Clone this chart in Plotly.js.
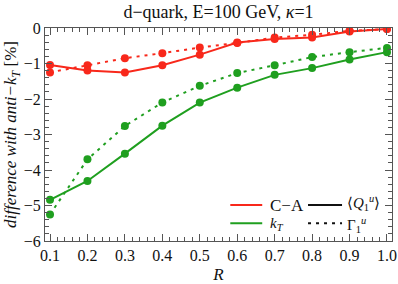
<!DOCTYPE html>
<html>
<head>
<meta charset="utf-8">
<script src="https://cdn.plot.ly/plotly-3.0.1.min.js"></script>
<style>html,body{margin:0;padding:0;background:#fff;}#chart{width:398px;height:284px;}</style>
</head>
<body>
<div id="chart"></div>
<script>
// Data
const R = [0.1, 0.2, 0.3, 0.4, 0.5, 0.6, 0.7, 0.8, 0.9, 1.0];
const caQ     = [-1.04, -1.20, -1.25, -1.05, -0.75, -0.41, -0.31, -0.27, -0.10, -0.03];
const caGamma = [-1.25, -1.05, -0.85, -0.71, -0.55, -0.42, -0.27, -0.19, -0.08, -0.03];
const ktQ     = [-4.84, -4.31, -3.54, -2.75, -2.10, -1.68, -1.32, -1.13, -0.89, -0.68];
const ktGamma = [-5.25, -3.70, -2.76, -2.10, -1.63, -1.27, -1.05, -0.82, -0.68, -0.56];
const xTicks = [0.1, 0.2, 0.3, 0.4, 0.5, 0.6, 0.7, 0.8, 0.9, 1.0];
const yTicks = [0, -1, -2, -3, -4, -5, -6];

const RED = '#f8281b';
const GREEN = '#1f9f1f';
const FONT = '"Liberation Serif", "Times New Roman", Times, serif';

function tr(y, color, dash) {
  return {
    x: R, y: y, type: 'scatter', mode: 'lines+markers',
    line: {color: color, width: 2, dash: dash},
    marker: {color: color, size: 8},
    showlegend: false, hoverinfo: 'skip'
  };
}

const data = [
  tr(caGamma, RED, '3px,5px'),
  tr(ktGamma, GREEN, '3px,5px'),
  tr(caQ, RED, 'solid'),
  tr(ktQ, GREEN, 'solid')
];

const axisCommon = {
  showgrid: false, zeroline: false, showline: true, mirror: 'allticks',
  linecolor: '#555', linewidth: 1, ticks: 'inside', ticklen: 7, tickcolor: '#555', tickwidth: 1,
  tickfont: {family: FONT, size: 16, color: '#111'}
};

const LF = 15;
const layout = {
  width: 398, height: 284,
  margin: {l: 45, r: 6.3, t: 28.3, b: 43, pad: 0},
  paper_bgcolor: '#fff', plot_bgcolor: '#fff',
  font: {family: FONT, color: '#111'},
  title: {text: 'd\u2212quark, E=100 GeV, <i>\u03ba</i>=1', font: {family: FONT, size: 18, color: '#111'},
          x: 0.5, xref: 'paper', y: 0.96, yref: 'container', yanchor: 'middle'},
  xaxis: Object.assign({}, axisCommon, {
    range: [0.0866, 1.0134], tickvals: xTicks, ticktext: xTicks.map(v => v.toFixed(1)),
    minor: {dtick: 0.02, tick0: 0, ticks: 'inside', ticklen: 4, tickcolor: '#555', showgrid: false},
    title: {text: '<i>R</i>', font: {family: FONT, size: 17, color: '#111'}, standoff: 4}
  }),
  yaxis: Object.assign({}, axisCommon, {
    range: [-6, 0], tickvals: yTicks, ticktext: yTicks.map(v => v === 0 ? '0' : '\u2212' + Math.abs(v)),
    minor: {dtick: 0.2, tick0: 0, ticks: 'inside', ticklen: 4, tickcolor: '#555', showgrid: false},
    title: {text: '<i>difference with anti\u2212k<sub>T</sub></i> [%]', font: {family: FONT, size: 17, color: '#111'}, standoff: 2}
  }),
  shapes: [
    {type: 'line', xref: 'paper', yref: 'paper', x0: 0.534, x1: 0.626, y0: 0.169, y1: 0.169, line: {color: RED, width: 2}},
    {type: 'line', xref: 'paper', yref: 'paper', x0: 0.534, x1: 0.626, y0: 0.083, y1: 0.083, line: {color: GREEN, width: 2}},
    {type: 'line', xref: 'paper', yref: 'paper', x0: 0.758, x1: 0.856, y0: 0.169, y1: 0.169, line: {color: '#111', width: 2}},
    {type: 'line', xref: 'paper', yref: 'paper', x0: 0.758, x1: 0.856, y0: 0.083, y1: 0.083, line: {color: '#111', width: 2, dash: '3px,5px'}}
  ],
  annotations: [
    {xref: 'paper', yref: 'paper', x: 0.643, y: 0.169, xanchor: 'left', yanchor: 'middle', showarrow: false,
     text: 'C\u2212A', font: {family: FONT, size: LF + 2, color: '#111'}},
    {xref: 'paper', yref: 'paper', x: 0.643, y: 0.078, xanchor: 'left', yanchor: 'middle', showarrow: false,
     text: '<i>k<sub>T</sub></i>', font: {family: FONT, size: LF, color: '#111'}},
    {xref: 'paper', yref: 'paper', x: 0.865, y: 0.178, xanchor: 'left', yanchor: 'middle', showarrow: false,
     text: '\u27e8<i>Q</i><sub>1</sub><sup><i>u</i></sup>\u27e9', font: {family: FONT, size: LF, color: '#111'}},
    {xref: 'paper', yref: 'paper', x: 0.865, y: 0.074, xanchor: 'left', yanchor: 'middle', showarrow: false,
     text: '\u0393<sub>1</sub><sup><i>u</i></sup>', font: {family: FONT, size: LF, color: '#111'}}
  ]
};

Plotly.newPlot('chart', data, layout, {staticPlot: true, displayModeBar: false});
</script>
</body>
</html>
